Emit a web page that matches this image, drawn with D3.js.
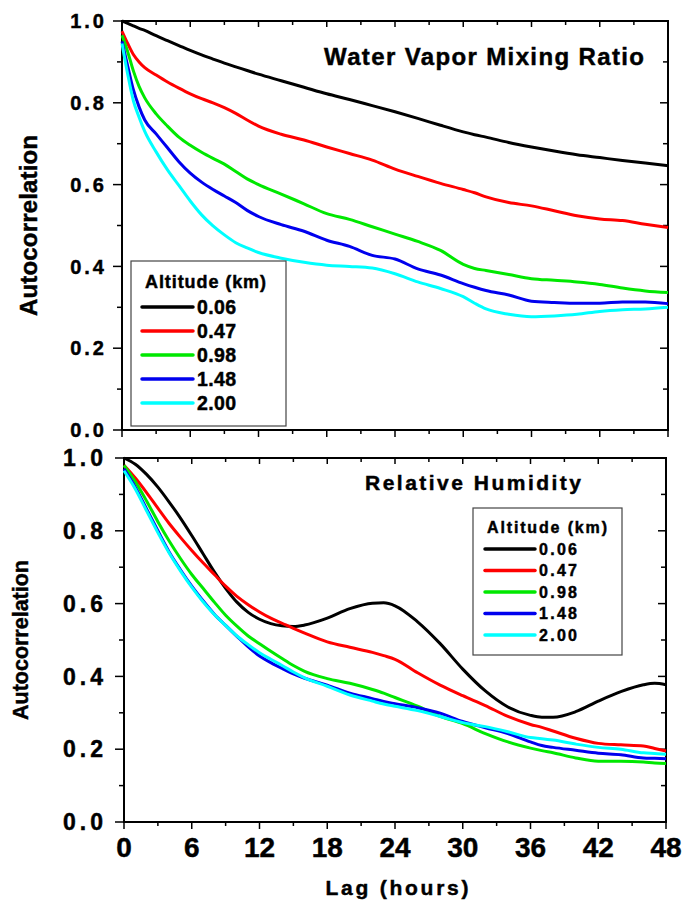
<!DOCTYPE html>
<html><head><meta charset="utf-8">
<script src="https://cdn.jsdelivr.net/npm/d3@7"></script>
<style>
html,body{margin:0;padding:0;background:#fff;}
svg{display:block;font-family:"Liberation Sans",Arial,Helvetica,sans-serif;font-weight:bold;}
svg text{stroke:#000;stroke-width:0.45px;}
</style></head>
<body><svg id="chart" width="685" height="908"></svg>
<script>
// ---------- data ----------
const altitudes = ["0.06", "0.47", "0.98", "1.48", "2.00"];
const colors = ["#000000", "#ff0000", "#00e800", "#0000ee", "#00ffff"];
const xTicks = [0, 6, 12, 18, 24, 30, 36, 42, 48];
const yTicks = [0.0, 0.2, 0.4, 0.6, 0.8, 1.0];

// Water vapor mixing ratio
const wvLag = [0, 0.5, 1, 1.5, 2, 3, 4, 5, 6, 7, 8, 9, 10, 11, 12, 14, 16, 18, 20, 22, 24, 26, 28, 30, 31, 32, 34, 36, 38, 40, 42, 44, 46, 48];
const wv006 = [1.0, 0.994, 0.988, 0.982, 0.977, 0.964, 0.952, 0.94, 0.928, 0.917, 0.907, 0.897, 0.888, 0.879, 0.870, 0.854, 0.838, 0.822, 0.808, 0.793, 0.778, 0.762, 0.745, 0.729, 0.722, 0.716, 0.703, 0.692, 0.682, 0.673, 0.666, 0.659, 0.653, 0.646];
const wv047 = [0.975, 0.945, 0.918, 0.9, 0.886, 0.868, 0.851, 0.836, 0.822, 0.81, 0.8, 0.788, 0.774, 0.758, 0.743, 0.723, 0.709, 0.692, 0.676, 0.66, 0.638, 0.62, 0.603, 0.588, 0.58, 0.57, 0.556, 0.548, 0.536, 0.524, 0.516, 0.512, 0.503, 0.495];
const wv098 = [0.965, 0.925, 0.878, 0.84, 0.812, 0.773, 0.743, 0.716, 0.696, 0.679, 0.664, 0.65, 0.632, 0.614, 0.6, 0.577, 0.553, 0.529, 0.515, 0.497, 0.479, 0.461, 0.439, 0.405, 0.395, 0.39, 0.38, 0.37, 0.366, 0.362, 0.356, 0.347, 0.34, 0.336];
const wv148 = [0.95, 0.89, 0.832, 0.79, 0.758, 0.724, 0.69, 0.656, 0.628, 0.606, 0.588, 0.572, 0.556, 0.537, 0.522, 0.502, 0.486, 0.464, 0.449, 0.427, 0.418, 0.394, 0.379, 0.358, 0.349, 0.341, 0.33, 0.315, 0.312, 0.31, 0.31, 0.313, 0.313, 0.309];
const wv200 = [0.945, 0.87, 0.805, 0.765, 0.73, 0.68, 0.636, 0.598, 0.56, 0.526, 0.499, 0.477, 0.458, 0.445, 0.434, 0.42, 0.41, 0.403, 0.4, 0.396, 0.382, 0.362, 0.346, 0.326, 0.31, 0.296, 0.283, 0.277, 0.279, 0.283, 0.29, 0.294, 0.296, 0.3];

// Relative humidity
const rhLag = [0, 1, 2, 3, 4, 5, 6, 7, 8, 9, 10, 11, 12, 13, 14, 15, 16, 18, 20, 22, 23, 24, 26, 28, 30, 32, 34, 36, 37, 38, 40, 42, 44, 46, 47, 48];
const rh006 = [1.0, 0.983, 0.955, 0.92, 0.879, 0.835, 0.787, 0.737, 0.687, 0.642, 0.604, 0.576, 0.557, 0.545, 0.539, 0.537, 0.541, 0.56, 0.586, 0.601, 0.602, 0.594, 0.55, 0.49, 0.42, 0.36, 0.316, 0.293, 0.288, 0.288, 0.303, 0.332, 0.358, 0.377, 0.381, 0.377];
const rh047 = [0.98, 0.945, 0.905, 0.862, 0.82, 0.782, 0.746, 0.712, 0.68, 0.648, 0.62, 0.597, 0.577, 0.56, 0.546, 0.532, 0.519, 0.495, 0.48, 0.466, 0.457, 0.447, 0.41, 0.376, 0.347, 0.32, 0.29, 0.268, 0.26, 0.25, 0.23, 0.216, 0.212, 0.209, 0.202, 0.195];
const rh098 = [0.98, 0.935, 0.882, 0.825, 0.772, 0.724, 0.68, 0.642, 0.604, 0.568, 0.538, 0.511, 0.49, 0.469, 0.449, 0.43, 0.414, 0.394, 0.381, 0.364, 0.354, 0.342, 0.318, 0.29, 0.27, 0.243, 0.22, 0.203, 0.196, 0.19, 0.176, 0.167, 0.167, 0.165, 0.162, 0.161];
const rh148 = [0.97, 0.92, 0.86, 0.8, 0.742, 0.693, 0.648, 0.608, 0.571, 0.54, 0.51, 0.481, 0.456, 0.438, 0.422, 0.407, 0.395, 0.376, 0.354, 0.339, 0.331, 0.325, 0.314, 0.299, 0.276, 0.259, 0.243, 0.22, 0.21, 0.205, 0.197, 0.189, 0.185, 0.176, 0.175, 0.174];
const rh200 = [0.965, 0.915, 0.855, 0.795, 0.739, 0.69, 0.645, 0.605, 0.57, 0.54, 0.511, 0.487, 0.465, 0.447, 0.43, 0.412, 0.396, 0.373, 0.349, 0.332, 0.324, 0.318, 0.306, 0.29, 0.273, 0.262, 0.248, 0.232, 0.229, 0.225, 0.214, 0.205, 0.2, 0.19, 0.188, 0.186];

const panels = [
  {title: "Water Vapor Mixing Ratio", lag: wvLag, series: [wv006, wv047, wv098, wv148, wv200],
   left: 122, right: 668, top: 21, bottom: 430, showX: false,
   yFont: 20, ySpacing: 3, yTitleX: 37, yTitleFont: 24, yTitleLen: 181,
   titleX: 324, titleY: 65, titleFont: 24, titleLen: 320,
   legend: {x: 131, y: 261, w: 155, h: 165, titleFont: 18, titleLen: 121, titleX: 145, titleY: 288,
            lineX1: 142, lineX2: 193, row0: 307, rowStep: 24, labelX: 197, labelFont: 19.5, labelLen: 39}},
  {title: "Relative Humidity", lag: rhLag, series: [rh006, rh047, rh098, rh148, rh200],
   left: 124, right: 666, top: 458, bottom: 822, showX: true,
   yFont: 23, ySpacing: 4, yTitleX: 28, yTitleFont: 21.5, yTitleLen: 160,
   titleX: 365, titleY: 490, titleFont: 21, titleLen: 216,
   legend: {x: 473, y: 508, w: 149, h: 147, titleFont: 16, titleLen: 120, titleX: 487, titleY: 533,
            lineX1: 485, lineX2: 535, row0: 549, rowStep: 21.5, labelX: 539, labelFont: 16, labelLen: 38}}
];

const svg = d3.select("#chart");

panels.forEach(p => {
  const x = d3.scaleLinear().domain([0, 48]).range([p.left, p.right]);
  const y = d3.scaleLinear().domain([0, 1]).range([p.bottom, p.top]);
  const g = svg.append("g");

  const xMinor = d3.range(0, 49, 3);
  const yMinor = d3.range(0, 1.0001, 0.1);

  // bottom axis built by d3 (domain/ticks restyled below)
  const bottomAx = g.append("g").attr("transform", `translate(0,${p.bottom})`)
    .call(d3.axisBottom(x).tickValues(xMinor).tickSize(0).tickFormat(""));
  bottomAx.selectAll(".tick line").remove();
  bottomAx.select(".domain").remove();

  xMinor.forEach(v => {
    const major = v % 6 === 0;
    g.append("line").attr("x1", x(v)).attr("x2", x(v))
      .attr("y1", p.bottom).attr("y2", p.bottom + (major ? 7 : 4))
      .attr("stroke", "#000").attr("stroke-width", 1.5);
    g.append("line").attr("x1", x(v)).attr("x2", x(v))
      .attr("y1", p.top).attr("y2", p.top + (major ? 6 : 4))
      .attr("stroke", "#000").attr("stroke-width", 1.5);
  });
  yMinor.forEach(v => {
    const major = Math.round(v * 10) % 2 === 0;
    g.append("line").attr("x1", p.left).attr("x2", p.left - (major ? 9 : 5))
      .attr("y1", y(v)).attr("y2", y(v))
      .attr("stroke", "#000").attr("stroke-width", 1.5);
    g.append("line").attr("x1", p.right).attr("x2", p.right - (major ? 8 : 5))
      .attr("y1", y(v)).attr("y2", y(v))
      .attr("stroke", "#000").attr("stroke-width", 1.5);
  });

  // frame
  g.append("rect").attr("x", p.left).attr("y", p.top)
    .attr("width", p.right - p.left).attr("height", p.bottom - p.top)
    .attr("fill", "none").attr("stroke", "#000").attr("stroke-width", 2);

  // y tick labels
  g.selectAll(".ylab").data(yTicks).enter().append("text")
    .attr("x", 107).attr("y", d => y(d))
    .attr("dy", "0.36em").attr("text-anchor", "end")
    .attr("font-size", p.yFont).attr("letter-spacing", p.ySpacing)
    .text(d => d3.format(".1f")(d));

  // x tick labels
  if (p.showX) {
    g.selectAll(".xlab").data(xTicks).enter().append("text")
      .attr("x", d => x(d)).attr("y", p.bottom + 35)
      .attr("text-anchor", "middle").attr("font-size", 28)
      .text(d => d);
    g.append("text").attr("x", 397).attr("y", 895)
      .attr("text-anchor", "middle").attr("font-size", 21)
      .attr("textLength", 143).attr("lengthAdjust", "spacing")
      .text("Lag (hours)");
  }

  // y title
  g.append("text")
    .attr("transform", `translate(${p.yTitleX},${(p.top + p.bottom) / 2}) rotate(-90)`)
    .attr("text-anchor", "middle").attr("font-size", p.yTitleFont)
    .attr("textLength", p.yTitleLen).attr("lengthAdjust", "spacing")
    .text("Autocorrelation");

  // panel title
  g.append("text").attr("x", p.titleX).attr("y", p.titleY)
    .attr("font-size", p.titleFont)
    .attr("textLength", p.titleLen).attr("lengthAdjust", "spacing")
    .text(p.title);

  // lines
  const line = d3.line().x((d, i) => x(p.lag[i])).y(d => y(d)).curve(d3.curveMonotoneX);
  p.series.forEach((s, k) => {
    g.append("path").datum(s).attr("d", line)
      .attr("fill", "none").attr("stroke", colors[k]).attr("stroke-width", 3)
      .attr("stroke-linejoin", "round");
  });

  // legend
  const L = p.legend;
  const lg = g.append("g");
  lg.append("rect").attr("x", L.x).attr("y", L.y).attr("width", L.w).attr("height", L.h)
    .attr("fill", "#fff").attr("stroke", "#444").attr("stroke-width", 1.2);
  lg.append("text").attr("x", L.titleX).attr("y", L.titleY)
    .attr("font-size", L.titleFont)
    .attr("textLength", L.titleLen).attr("lengthAdjust", "spacing")
    .text("Altitude (km)");
  altitudes.forEach((a, k) => {
    const yy = L.row0 + k * L.rowStep;
    lg.append("line").attr("x1", L.lineX1).attr("x2", L.lineX2).attr("y1", yy).attr("y2", yy)
      .attr("stroke", colors[k]).attr("stroke-width", 3.5).attr("stroke-linecap", "round");
    lg.append("text").attr("x", L.labelX).attr("y", yy).attr("dy", "0.36em")
      .attr("font-size", L.labelFont)
      .attr("textLength", L.labelLen).attr("lengthAdjust", "spacing")
      .text(a);
  });
});
</script>
</body></html>
